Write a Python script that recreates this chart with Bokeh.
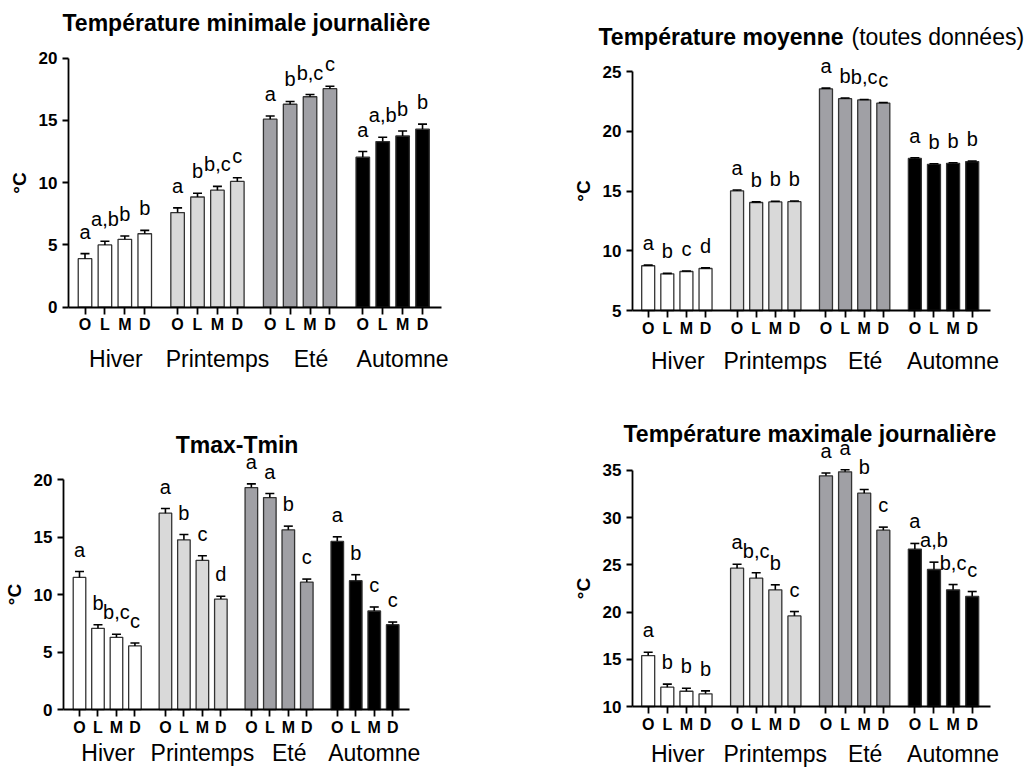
from bokeh.plotting import figure
from bokeh.models import (ColumnDataSource, FixedTicker, LinearAxis, Range1d,
                          Whisker, TeeHead, Label)
from bokeh.layouts import column, row
from bokeh.core.properties import value
from bokeh.embed import file_html
from bokeh.resources import INLINE

# ---- data -------------------------------------------------------------
seasons = ["Hiver", "Printemps", "Eté", "Automne"]
stations = ["O", "L", "M", "D"]
season_colors = ["#ffffff", "#d9d9d9", "#a0a0a5", "#000000"]

# Température minimale journalière (moyenne ± erreur standard)
tmin_mean = [3.9, 5.0, 5.45, 5.9, 7.6, 8.85, 9.4, 10.1,
             15.1, 16.3, 16.9, 17.55, 12.05, 13.3, 13.75, 14.3]
tmin_err = [0.4, 0.3, 0.27, 0.27, 0.38, 0.3, 0.3, 0.3,
            0.25, 0.22, 0.18, 0.19, 0.45, 0.35, 0.4, 0.4]
tmin_letters = ["a", "a,b", "b", "b", "a", "b", "b,c", "c",
                "a", "b", "b,c", "c", "a", "a,b", "b", "b"]

# Température moyenne (toutes données)
tmoy_mean = [8.75, 8.07, 8.27, 8.52, 15.03, 14.05, 14.1, 14.12,
             23.57, 22.75, 22.64, 22.38, 17.74, 17.25, 17.33, 17.48]
tmoy_err = [0.05, 0.04, 0.04, 0.05, 0.06, 0.05, 0.05, 0.05,
            0.06, 0.05, 0.04, 0.05, 0.06, 0.05, 0.05, 0.05]
tmoy_letters = ["a", "b", "c", "d", "a", "b", "b", "b",
                "a", "b", "b,c", "c", "a", "b", "b", "b"]

# Amplitude thermique Tmax-Tmin
dtr_mean = [11.5, 7.07, 6.29, 5.54, 17.1, 14.78, 12.99, 9.62,
            19.33, 18.46, 15.65, 11.1, 14.64, 11.22, 8.58, 7.39]
dtr_err = [0.52, 0.32, 0.26, 0.26, 0.4, 0.46, 0.4, 0.24,
           0.32, 0.35, 0.32, 0.26, 0.4, 0.52, 0.35, 0.23]
dtr_letters = ["a", "b", "b,c", "c", "a", "b", "c", "d",
               "a", "a", "b", "c", "a", "b", "c", "c"]

# Température maximale journalière
tmax_mean = [15.4, 12.05, 11.62, 11.34, 24.65, 23.59, 22.36, 19.6,
             34.43, 34.86, 32.6, 28.68, 26.67, 24.51, 22.36, 21.65]
tmax_err = [0.35, 0.32, 0.32, 0.32, 0.42, 0.57, 0.53, 0.46,
            0.3, 0.21, 0.39, 0.32, 0.6, 0.78, 0.56, 0.53]
tmax_letters = ["a", "b", "b", "b", "a", "b,c", "b", "c",
                "a", "a", "b", "c", "a", "a,b", "b,c", "c"]

# ---- layout constants ---------------------------------------------------
FONT = "Liberation Sans"
BAR_STEP = 20        # distance between two stations on the x scale
GROUP_STEP = 93      # distance between two seasons on the x scale
BAR_WIDTH = 13.6
SEASON_LABEL_SHIFT = [1, 10, 11, 10]

xs = [g * GROUP_STEP + i * BAR_STEP for g in range(len(seasons)) for i in range(len(stations))]
bar_colors = [season_colors[g] for g in range(len(seasons)) for _ in stations]
station_ticks = {x: stations[k % len(stations)] for k, x in enumerate(xs)}
season_ticks = {g * GROUP_STEP + 1.5 * BAR_STEP + SEASON_LABEL_SHIFT[g]: s
                for g, s in enumerate(seasons)}


def make_panel(mean, err, letters, y_ticks, *, width, height, x_range, y_range,
               x_axis_span, season_standoff):
    """One bar panel; the plotting frame fills the whole canvas and the
    axes are pinned at fixed data positions inside it."""
    base = y_ticks[0]
    p = figure(width=width, height=height, output_backend="svg", toolbar_location=None,
               title=None, x_range=Range1d(*x_range), y_range=Range1d(*y_range),
               x_axis_type=None, y_axis_type=None,
               min_border_left=0, min_border_right=0,
               min_border_top=0, min_border_bottom=0)
    p.outline_line_color = None
    p.background_fill_color = "white"
    p.border_fill_color = "white"

    src = ColumnDataSource(dict(
        x=xs, top=mean, upper=[m + e for m, e in zip(mean, err)],
        fill=bar_colors, label=letters))

    p.vbar(x="x", top="top", bottom=base, width=BAR_WIDTH, source=src,
           fill_color="fill", line_color="#333333", line_width=1.3)

    whisk = Whisker(source=src, base="x", lower="top", upper="upper",
                    dimension="height", line_color="black", line_width=1.6,
                    upper_head=TeeHead(size=9, line_color="black", line_width=1.6),
                    lower_head=None, level="glyph")
    p.add_layout(whisk)

    # significance letters above each error bar
    p.text(x="x", y="upper", text="label", source=src, text_align="center",
           text_baseline="middle", y_offset=-22, text_color="black",
           text_font=value(FONT), text_font_size="20px")

    # y axis, limited to the tick span
    yax = LinearAxis(ticker=FixedTicker(ticks=y_ticks, minor_ticks=[]),
                     bounds=(y_ticks[0], y_ticks[-1]), axis_label="°C",
                     fixed_location=x_axis_span[0])
    yax.axis_line_width = 1.8
    yax.major_tick_line_width = 1.8
    yax.major_tick_out = 6
    yax.major_tick_in = 0
    yax.minor_tick_out = 0
    yax.minor_tick_in = 0
    yax.major_label_text_font = FONT
    yax.major_label_text_font_style = "bold"
    yax.major_label_text_font_size = "17px"
    yax.major_label_text_color = "black"
    yax.major_label_standoff = 5
    yax.axis_label_text_font = FONT
    yax.axis_label_text_font_style = "bold"
    yax.axis_label_text_font_size = "19px"
    yax.axis_label_text_color = "black"
    yax.axis_label_standoff = 6
    p.add_layout(yax, "left")

    # station letters under each bar
    xax = LinearAxis(ticker=FixedTicker(ticks=xs, minor_ticks=[]),
                     major_label_overrides=station_ticks, fixed_location=base,
                     bounds=x_axis_span)
    xax.axis_line_width = 1.8
    xax.major_tick_line_width = 1.8
    xax.major_tick_out = 7
    xax.major_tick_in = 0
    xax.minor_tick_out = 0
    xax.minor_tick_in = 0
    xax.major_label_text_font = FONT
    xax.major_label_text_font_style = "bold"
    xax.major_label_text_font_size = "16px"
    xax.major_label_text_color = "black"
    xax.major_label_standoff = 2
    p.add_layout(xax, "below")

    # season names under each group
    sax = LinearAxis(ticker=FixedTicker(ticks=list(season_ticks), minor_ticks=[]),
                     major_label_overrides=season_ticks, fixed_location=base)
    sax.axis_line_color = None
    sax.major_tick_line_color = None
    sax.minor_tick_line_color = None
    sax.major_tick_out = 0
    sax.major_tick_in = 0
    sax.minor_tick_out = 0
    sax.minor_tick_in = 0
    sax.major_label_text_font = FONT
    sax.major_label_text_font_size = "23px"
    sax.major_label_text_color = "black"
    sax.major_label_standoff = season_standoff
    p.add_layout(sax, "below")
    return p


def add_title(p, text, x, y, bold=True, align="left"):
    p.add_layout(Label(x=x, y=y, x_units="screen", y_units="screen", text=text,
                       text_font=FONT, text_font_size="23px",
                       text_font_style="bold" if bold else "normal",
                       text_align=align, text_baseline="middle",
                       text_color="black"))


p1 = make_panel(tmin_mean, tmin_err, tmin_letters, [0, 5, 10, 15, 20],
                width=520, height=390, x_range=(-84.87, 437.4), y_range=(-6.69, 24.63),
                x_axis_span=(-16.6, 358.1), season_standoff=39)
add_title(p1, "Température minimale journalière", 62, 368)

p2 = make_panel(tmoy_mean, tmoy_err, tmoy_letters, [5, 10, 15, 20, 25],
                width=508, height=390, x_range=(-133.6, 397.9), y_range=(-1.70, 30.97),
                x_axis_span=(-16.4, 358.1), season_standoff=37)
add_title(p2, "Température moyenne", 78, 354)
add_title(p2, "(toutes données)", 331, 354, bold=False)

p3 = make_panel(dtr_mean, dtr_err, dtr_letters, [0, 5, 10, 15, 20],
                width=520, height=379, x_range=(-85.5, 477.3), y_range=(-5.22, 27.78),
                x_axis_span=(-17.3, 357.1), season_standoff=30)
add_title(p3, "Tmax-Tmin", 236.5, 325, align="center")

p4 = make_panel(tmax_mean, tmax_err, tmax_letters, [10, 15, 20, 25, 30, 35],
                width=508, height=379, x_range=(-133.6, 397.9), y_range=(3.33, 43.47),
                x_axis_span=(-16.4, 358.1), season_standoff=34)
add_title(p4, "Température maximale journalière", 103, 336)

layout = column(row(p1, p2, spacing=0), row(p3, p4, spacing=0), spacing=0)

with open("out.html", "w") as f:
    f.write(file_html(layout, INLINE))
